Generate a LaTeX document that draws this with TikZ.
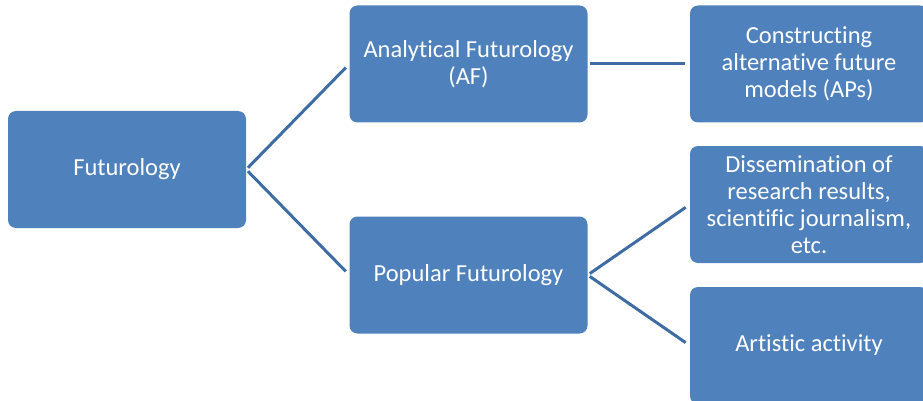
\documentclass[tikz,border=0pt]{standalone}
\usepackage{fontspec}
\setmainfont{Carlito}[Ligatures=NoCommon]
\definecolor{boxblue}{HTML}{4F81BD}
\definecolor{lineblue}{HTML}{3F6CA3}

\begin{document}
\begin{tikzpicture}[x=1pt, y=-1pt,
		box/.style={fill=boxblue, rounded corners=8pt, minimum width=238pt, minimum height=117pt,
			inner sep=0pt, align=center, text=white, font=\fontsize{24.5}{27}\selectfont},
		branch/.style={line width=3pt, color=lineblue, shorten <=2.5pt, shorten >=5pt}]
		%%%%% START %%%%%
		
		\clip (0, 0) rectangle (923, 401);
		
		\node[box] (fut) at (127, 169.5) {Futurology};
		
		\node[box] (af) at (468.5, 64) {Analytical Futurology\\(AF)};
		\node[box] (pf) at (468.5, 275) {Popular Futurology};
		
		\node[box] (cm) at (809, 64) {Constructing\\alternative future\\models (APs)};
		\node[box] (dis) at (809, 204.5) {Dissemination of\\research results,\\scientific journalism,\\etc.};
		\node[box] (art) at (809, 345.5) {Artistic activity};
		
		\draw[branch] (fut.east) -- (af.west);
		\draw[branch] (fut.east) -- (pf.west);
		\draw[branch] (af.east) -- (cm.west);
		\draw[branch] (pf.east) -- (dis.west);
		\draw[branch] (pf.east) -- (art.west);
		
		%%%%% END %%%%%
	\end{tikzpicture}
\end{document}
